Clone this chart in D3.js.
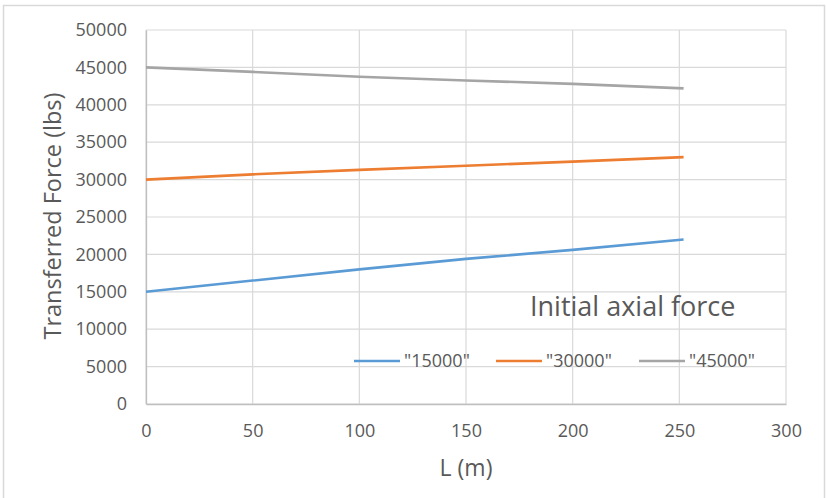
<!DOCTYPE html>
<html>
<head>
<meta charset="utf-8">
<script src="https://cdn.jsdelivr.net/npm/d3@7"></script>
<style>
  html, body { margin: 0; padding: 0; background: #fff; }
  svg { display: block; font-family: "Open Sans", sans-serif; }
</style>
</head>
<body>
<svg id="chart" width="826" height="498"></svg>
<script>
// Span length L (m) at which the transferred force was evaluated
const lengths = [0, 50, 100, 150, 200, 252];

// Transferred force (lbs) for each initial axial force
const force15000 = [15000, 16500, 18000, 19400, 20600, 22000];
const force30000 = [30000, 30700, 31300, 31850, 32400, 33000];
const force45000 = [45000, 44400, 43750, 43250, 42800, 42200];

const seriesNames = ['"15000"', '"30000"', '"45000"'];
const seriesColors = ["#5b9bd5", "#ed7d31", "#a5a5a5"];

const xTicks = [0, 50, 100, 150, 200, 250, 300];
const yTicks = [0, 5000, 10000, 15000, 20000, 25000, 30000, 35000, 40000, 45000, 50000];

const svg = d3.select("#chart");
const W = 826, H = 498;
const plot = { left: 146, right: 786, top: 30, bottom: 404 };

// Chart frame
svg.append("rect")
  .attr("x", 3.5).attr("y", 5.5)
  .attr("width", 821).attr("height", 500)
  .attr("fill", "#fff")
  .attr("stroke", "#d9d9d9")
  .attr("stroke-width", 1.5);

const x = d3.scaleLinear().domain([0, 300]).range([plot.left, plot.right]);
const y = d3.scaleLinear().domain([0, 50000]).range([plot.bottom, plot.top]);

const textColor = "#595959";
const gridColor = "#d9d9d9";

// Gridlines
const grid = svg.append("g");
grid.selectAll("line.h").data(yTicks).join("line")
  .attr("x1", plot.left).attr("x2", plot.right)
  .attr("y1", d => y(d)).attr("y2", d => y(d))
  .attr("stroke", gridColor).attr("stroke-width", 1.2);
grid.selectAll("line.v").data(xTicks).join("line")
  .attr("x1", d => x(d)).attr("x2", d => x(d))
  .attr("y1", plot.top).attr("y2", plot.bottom)
  .attr("stroke", gridColor).attr("stroke-width", 1.2);

// Axes
const yAxis = svg.append("g")
  .attr("transform", `translate(${plot.left},0)`)
  .call(d3.axisLeft(y).tickValues(yTicks).tickFormat(d3.format("d")).tickSize(0).tickPadding(19));
const xAxis = svg.append("g")
  .attr("transform", `translate(0,${plot.bottom})`)
  .call(d3.axisBottom(x).tickValues(xTicks).tickFormat(d3.format("d")).tickSize(0).tickPadding(20));

[yAxis, xAxis].forEach(ax => {
  ax.select(".domain").attr("stroke", "#bfbfbf").attr("stroke-width", 1.3);
  ax.selectAll("text")
    .attr("fill", textColor)
    .style("font-family", "'Open Sans', sans-serif")
    .style("font-size", "18px");
});

// Series lines
const line = d3.line().x(d => x(d[0])).y(d => y(d[1]));
[force15000, force30000, force45000].forEach((vals, i) => {
  svg.append("path")
    .datum(lengths.map((L, j) => [L, vals[j]]))
    .attr("d", line)
    .attr("fill", "none")
    .attr("stroke", seriesColors[i])
    .attr("stroke-width", 2.6)
    .attr("stroke-linejoin", "round");
});

// Axis titles
svg.append("text")
  .attr("transform", "translate(61,216) rotate(-90)")
  .attr("text-anchor", "middle")
  .attr("fill", textColor)
  .style("font-size", "23.5px")
  .text("Transferred Force (lbs)");

svg.append("text")
  .attr("x", 466).attr("y", 476)
  .attr("text-anchor", "middle")
  .attr("fill", textColor)
  .style("font-size", "23px")
  .text("L (m)");

// Legend title
svg.append("text")
  .attr("x", 530).attr("y", 316)
  .attr("fill", textColor)
  .style("font-size", "27px")
  .text("Initial axial force");

// Legend entries
const legendX = [354, 496, 639];
const legend = svg.append("g");
seriesNames.forEach((name, i) => {
  legend.append("line")
    .attr("x1", legendX[i]).attr("x2", legendX[i] + 46)
    .attr("y1", 361).attr("y2", 361)
    .attr("stroke", seriesColors[i])
    .attr("stroke-width", 2.6);
  legend.append("text")
    .attr("x", legendX[i] + 50).attr("y", 367)
    .attr("fill", textColor)
    .style("font-size", "18px")
    .text(name);
});
</script>
</body>
</html>
